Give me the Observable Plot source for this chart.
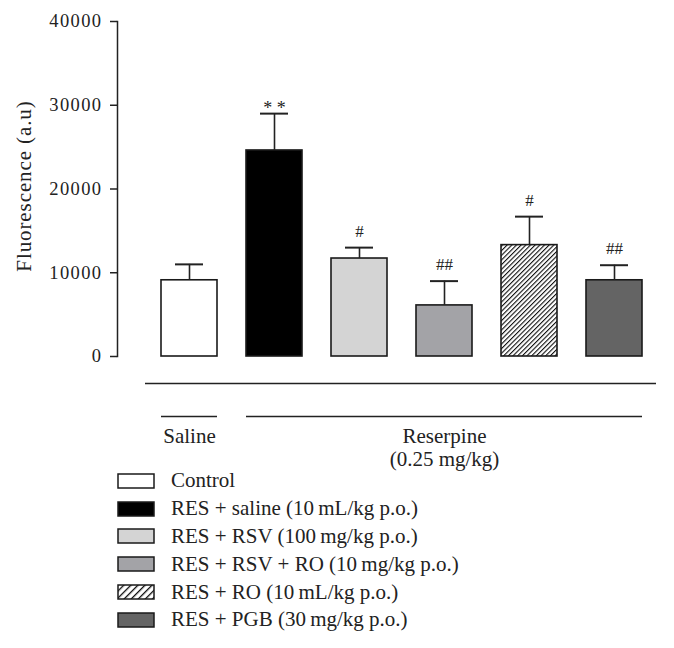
<!DOCTYPE html>
<html>
<head>
<meta charset="utf-8">
<script src="https://cdn.jsdelivr.net/npm/d3@7"></script>
<script src="https://cdn.jsdelivr.net/npm/@observablehq/plot@0.6"></script>
<style>
  html, body { margin: 0; padding: 0; background: #ffffff; }
  #wrap { position: relative; width: 674px; height: 648px; font-family: "Liberation Serif", "Times New Roman", serif; color: #222; }
  #legend { position: absolute; left: 117px; top: 467px; }
  .row { display: flex; align-items: center; height: 27.8px; font-size: 21px; }
  .row svg { margin-right: 16px; flex: none; }
</style>
</head>
<body>
<div id="wrap"><div id="chart"></div><div id="legend"></div></div>
<script>
// ---- data ----
const groups = [
  "Control",
  "RES + saline (10\u2009mL/kg p.o.)",
  "RES + RSV (100\u2009mg/kg p.o.)",
  "RES + RSV + RO (10\u2009mg/kg p.o.)",
  "RES + RO (10\u2009mL/kg p.o.)",
  "RES + PGB (30\u2009mg/kg p.o.)"
];
const means = [9100, 24600, 11700, 6100, 13300, 9100];
const sems = [1900, 4400, 1300, 2900, 3400, 1800];
const significance = ["", "**", "#", "##", "#", "##"];
const yTicks = [0, 10000, 20000, 30000, 40000];
const yLabel = "Fluorescence (a.u)";
const treatmentLabels = ["Saline", "Reserpine\n(0.25 mg/kg)"];
const treatmentFirst = [groups[0], groups[1]];
const treatmentLast = [groups[0], groups[5]];
const treatmentCenter = [groups[0], groups[3]];

// ---- styling (not data) ----
const palette = ["#ffffff", "#000000", "#d4d4d4", "#a3a3a7", "url(#hatch)", "#646464"];
const ink = "#222222";

const rows = groups.map((g, i) => ({group: g, mean: means[i], top: means[i] + sems[i], sig: significance[i]}));
const treat = treatmentLabels.map((t, i) => ({label: t, first: treatmentFirst[i], last: treatmentLast[i], center: treatmentCenter[i]}));

const svg = Plot.plot({
  width: 674,
  height: 472,
  marginTop: 21,
  marginBottom: 116,
  marginLeft: 117,
  marginRight: 15,
  style: {fontFamily: "'Liberation Serif', 'Times New Roman', serif", fontSize: "18px", color: ink, background: "white", overflow: "visible"},
  x: {domain: groups, range: [158, 645], paddingInner: 0.337, paddingOuter: 0, axis: null},
  y: {domain: [0, 40000], axis: null},
  color: {domain: groups, range: palette},
  marks: [
    Plot.axisY({ticks: yTicks, tickSize: 7, tickPadding: 8, tickFormat: d => String(d), label: null, fontSize: 18.5, stroke: ink, strokeWidth: 1.5, fill: ink}),
    Plot.text([yLabel], {frameAnchor: "left", textAnchor: "middle", text: d => d, rotate: -90, dx: -93, dy: -3, fontSize: 21, fill: ink}),
    Plot.frame({anchor: "left", stroke: ink, strokeWidth: 1.5}),
    Plot.barY(rows, {x: "group", y: "mean", fill: "group", stroke: "#1a1a1a", strokeWidth: 1.6}),
    Plot.ruleX(rows, {x: "group", y1: "mean", y2: "top", stroke: ink, strokeWidth: 1.6}),
    Plot.tickY(rows, {x: "group", y: "top", insetLeft: 14, insetRight: 14, stroke: ink, strokeWidth: 2}),
    Plot.text(rows.filter(d => d.sig.startsWith("*")), {x: "group", y: "top", text: d => d.sig.split("").join(" "), lineAnchor: "bottom", dy: 0, fontSize: 18, fill: ink}),
    Plot.text(rows.filter(d => d.sig.startsWith("#")), {x: "group", y: "top", text: "sig", lineAnchor: "bottom", dy: -11, fontSize: 17, fill: ink}),
    Plot.ruleY([0], {x1: () => groups[0], x2: () => groups[groups.length - 1], dy: 27, insetLeft: -16, insetRight: -14, stroke: ink, strokeWidth: 1.6}),
    Plot.ruleY(treat, {y: () => 0, x1: "first", x2: "last", dy: 60, stroke: ink, strokeWidth: 1.6}),
    Plot.text(treat, {x: "center", y: () => 0, text: "label", lineAnchor: "top", lineHeight: 1.1, dy: 70, fontSize: 21, fill: ink})
  ]
});

// widen tick labels and axis title slightly (letter spacing, as in the original typeface)
svg.querySelectorAll('g[aria-label="y-axis tick label"] text').forEach(t => { t.style.letterSpacing = "1.4px"; });
svg.querySelectorAll('g[aria-label="text"] text').forEach(t => { if (t.textContent === yLabel) t.style.letterSpacing = "0.9px"; });

// hatch pattern for the striped bar
const NS = "http://www.w3.org/2000/svg";
function addHatch(target, id, spacing, width) {
  const defs = document.createElementNS(NS, "defs");
  const pat = document.createElementNS(NS, "pattern");
  pat.setAttribute("id", id);
  pat.setAttribute("patternUnits", "userSpaceOnUse");
  pat.setAttribute("width", spacing);
  pat.setAttribute("height", spacing);
  pat.setAttribute("patternTransform", "rotate(45)");
  const bg = document.createElementNS(NS, "rect");
  bg.setAttribute("width", spacing); bg.setAttribute("height", spacing); bg.setAttribute("fill", "white");
  const ln = document.createElementNS(NS, "line");
  ln.setAttribute("x1", 0); ln.setAttribute("y1", 0); ln.setAttribute("x2", 0); ln.setAttribute("y2", spacing);
  ln.setAttribute("stroke", "#111"); ln.setAttribute("stroke-width", width);
  pat.appendChild(bg); pat.appendChild(ln); defs.appendChild(pat);
  target.insertBefore(defs, target.firstChild);
}
addHatch(svg, "hatch", 3.3, 2.2);
document.getElementById("chart").appendChild(svg);

// legend
const legend = document.getElementById("legend");
groups.forEach((g, i) => {
  const row = document.createElement("div");
  row.className = "row";
  const sw = document.createElementNS(NS, "svg");
  sw.setAttribute("width", 38); sw.setAttribute("height", 16);
  const r = document.createElementNS(NS, "rect");
  r.setAttribute("x", 1); r.setAttribute("y", 1); r.setAttribute("width", 36); r.setAttribute("height", 14);
  r.setAttribute("fill", palette[i].startsWith("url") ? "url(#hatchLegend)" : palette[i]);
  r.setAttribute("stroke", "#1a1a1a"); r.setAttribute("stroke-width", 1.5);
  if (palette[i].startsWith("url")) addHatch(sw, "hatchLegend", 5, 2.6);
  sw.appendChild(r);
  const t = document.createElement("span");
  t.textContent = g;
  row.appendChild(sw); row.appendChild(t);
  legend.appendChild(row);
});
</script>
</body>
</html>
